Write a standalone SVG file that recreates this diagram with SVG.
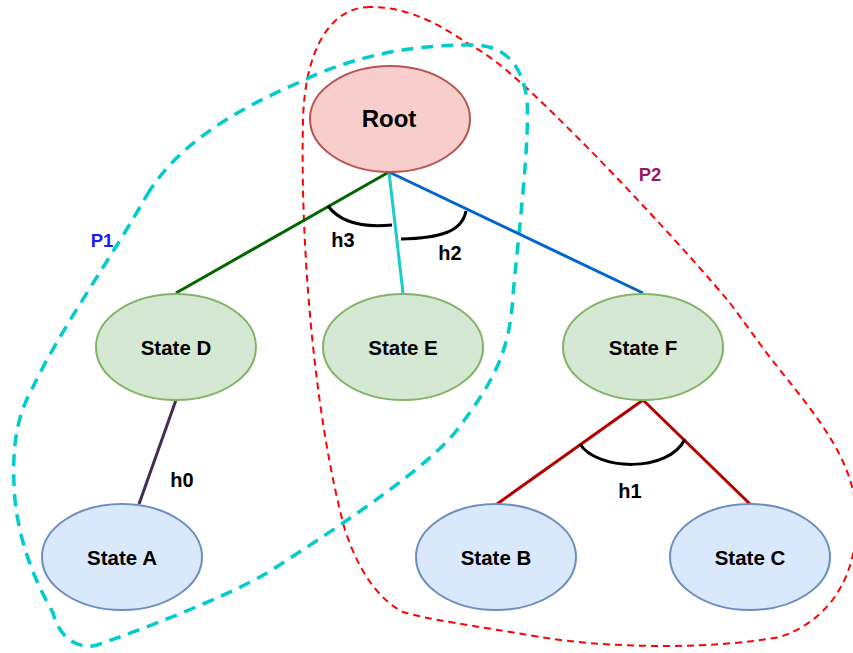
<svg xmlns="http://www.w3.org/2000/svg" width="853" height="653" viewBox="0 0 853 653">
  <style>
    .lbl { font-family: "Liberation Sans", Arial, sans-serif; font-weight: bold; fill: #000; text-anchor: middle; dominant-baseline: central; }
    .node-text { font-size: 20.5px; }
    .angle-text { font-size: 20px; }
    .root-fill { fill: #F8CECC; stroke: #B85450; stroke-width: 2; }
    .mid-fill { fill: #D5E8D4; stroke: #82B366; stroke-width: 2; }
    .leaf-fill { fill: #DAE8FC; stroke: #6C8EBF; stroke-width: 2; }
    .edge { fill: none; stroke-width: 3; }
    .arc { fill: none; stroke: #000; stroke-width: 3; }
    .group-p1 { fill: none; stroke: #00CCCC; stroke-width: 3.5; stroke-dasharray: 12 8; }
    .group-p2 { fill: none; stroke: #FF0000; stroke-width: 2; stroke-dasharray: 7 5; }
  </style>
  <rect width="853" height="653" fill="#FFFFFF"/>

  <!-- partition outlines -->
  <g id="partitions">
    <path class="group-p2" d="M370,7 C330,7 305,50 303,120 C300,250 315,420 345,530 C360,575 380,600 403,612 C430,620 470,625 540,637 C620,650 720,648 780,637 C830,620 860,575 856,510 C852,460 820,420 780,370 C760,345 750,330 730,303 C690,255 620,180 580,140 C540,100 500,60 470,45 C440,25 410,7 370,7 Z"/>
    <path class="group-p1" d="M147,195 C175,148 230,112 300,82 C345,60 400,45 470,45 C500,44 522,60 527,100 C530,140 518,240 513,295 C510,350 495,380 457,430 C430,465 350,520 267,573 C220,600 140,630 97,645 C80,650 60,640 53,613 C40,590 20,550 15,500 C10,440 20,410 33,387 C60,330 110,260 147,195 Z"/>
  </g>

  <!-- connectors -->
  <g id="connectors">
    <line class="edge" x1="389" y1="172" x2="176" y2="293" stroke="#006600"/>
    <line class="edge" x1="389" y1="172" x2="403" y2="293" stroke="#1ACCCC"/>
    <line class="edge" x1="389" y1="172" x2="643" y2="293" stroke="#0066CC"/>
    <line class="edge" x1="176" y1="400" x2="139" y2="504" stroke="#432D57"/>
    <line class="edge" x1="643" y1="400" x2="497" y2="504" stroke="#B20000"/>
    <line class="edge" x1="643" y1="400" x2="750" y2="504" stroke="#B20000"/>
    <!-- angle arcs -->
    <path class="arc" d="M328,206 C340,222 362,228 392,225"/>
    <path class="arc" d="M401,239 C440,238 462,232 466,211"/>
    <path class="arc" d="M580,444 C596,470 668,474 685,439"/>
    <text class="lbl angle-text" x="343" y="240">h3</text>
    <text class="lbl angle-text" x="450" y="253">h2</text>
    <text class="lbl angle-text" x="630" y="491">h1</text>
    <text class="lbl angle-text" x="182" y="480">h0</text>
  </g>

  <g id="label-p1">
    <text class="lbl" x="102" y="240" font-size="18.5" style="fill:#1A1AFF">P1</text>
  </g>
  <g id="label-p2">
    <text class="lbl" x="650" y="174" font-size="18.5" style="fill:#99195E">P2</text>
  </g>

  <!-- nodes -->
  <g id="root">
    <ellipse class="root-fill" cx="390" cy="119" rx="80" ry="53"/>
    <text class="lbl" x="389" y="118" font-size="24">Root</text>
  </g>
  <g id="state-d">
    <ellipse class="mid-fill" cx="176" cy="347" rx="80" ry="53"/>
    <text class="lbl node-text" x="176" y="347">State D</text>
  </g>
  <g id="state-e">
    <ellipse class="mid-fill" cx="403" cy="347" rx="80" ry="53"/>
    <text class="lbl node-text" x="403" y="347">State E</text>
  </g>
  <g id="state-f">
    <ellipse class="mid-fill" cx="643" cy="347" rx="80" ry="53"/>
    <text class="lbl node-text" x="643" y="347">State F</text>
  </g>
  <g id="state-a">
    <ellipse class="leaf-fill" cx="122" cy="557" rx="80" ry="53"/>
    <text class="lbl node-text" x="122" y="557">State A</text>
  </g>
  <g id="state-b">
    <ellipse class="leaf-fill" cx="496" cy="557" rx="80" ry="53"/>
    <text class="lbl node-text" x="496" y="557">State B</text>
  </g>
  <g id="state-c">
    <ellipse class="leaf-fill" cx="750" cy="557" rx="80" ry="53"/>
    <text class="lbl node-text" x="750" y="557">State C</text>
  </g>
</svg>
